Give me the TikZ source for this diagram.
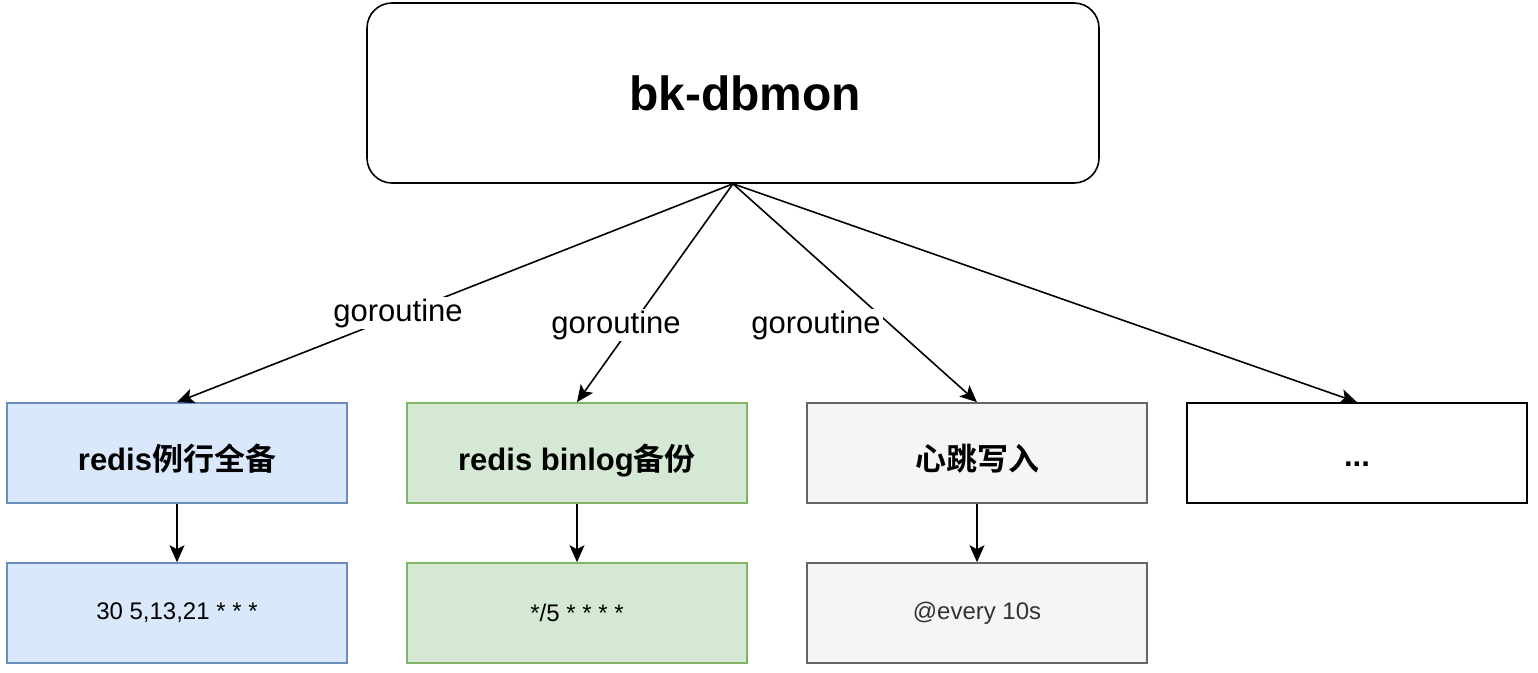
\documentclass[tikz,border=0pt]{standalone}
\usepackage{fontspec}
\setmainfont{Liberation Sans}
\newfontfamily\cjk{Noto Sans CJK SC}[BoldFont={Noto Sans CJK SC Bold}]
\usetikzlibrary{arrows.meta}
\definecolor{bluefill}{HTML}{DAE8FC}
\definecolor{bluedraw}{HTML}{6C8EBF}
\definecolor{greenfill}{HTML}{D5E8D4}
\definecolor{greendraw}{HTML}{82B366}
\definecolor{grayfill}{HTML}{F5F5F5}
\definecolor{graydraw}{HTML}{666666}
\definecolor{graytext}{HTML}{333333}
\newcommand{\lowtext}[2]{\smash{\raisebox{-#1}{#2}}}
\tikzset{
  box/.style={rectangle, minimum width=340pt, minimum height=100pt, line width=1.6pt, inner sep=0pt},
  bigtext/.style={font=\fontsize{31}{36}\selectfont\bfseries},
  smalltext/.style={font=\fontsize{24}{28}\selectfont},
  bluebox/.style={box, fill=bluefill, draw=bluedraw},
  greenbox/.style={box, fill=greenfill, draw=greendraw},
  graybox/.style={box, fill=grayfill, draw=graydraw},
  plainbox/.style={box, fill=white, draw=black},
  arr/.style={line width=1.6pt, -{Stealth[length=17pt, width=15pt, inset=4pt]}},
  lbl/.style={fill=white, inner sep=2pt, font=\fontsize{31}{36}\selectfont}
}
\begin{document}
\begin{tikzpicture}[x=1pt, y=-1pt]
\useasboundingbox (0,0) rectangle (1538,672);
\node[draw=black, line width=1.6pt, rounded corners=25pt, minimum width=732pt, minimum height=180pt] (top) at (733,93) {};
\node[font=\fontsize{48}{54}\selectfont\bfseries, inner sep=0pt] (title) at (745,93) {bk-dbmon};

\node[bluebox, bigtext] (b1) at (177,453) {\lowtext{17pt}{redis{\cjk 例行全备}}};
\node[greenbox, bigtext] (b2) at (577,453) {\lowtext{17pt}{redis binlog{\cjk 备份}}};
\node[graybox, bigtext] (b3) at (977,453) {\lowtext{17pt}{\cjk 心跳写入}};
\node[plainbox, bigtext] (b4) at (1357,453) {\lowtext{13pt}{...}};

\node[bluebox, smalltext] (c1) at (177,613) {30 5,13,21 * * *};
\node[greenbox, smalltext] (c2) at (577,613) {*/5 * * * *};
\node[graybox, smalltext, text=graytext] (c3) at (977,613) {@every 10s};

\draw[arr] (top.south) -- (b1.north);
\draw[arr] (top.south) -- (b2.north);
\draw[arr] (top.south) -- (b3.north);
\draw[arr] (top.south) -- (b4.north);

\draw[arr] (b1.south) -- (c1.north);
\draw[arr] (b2.south) -- (c2.north);
\draw[arr] (b3.south) -- (c3.north);

\node[lbl] (l1) at (398,313) {goroutine};
\node[lbl] (l2) at (616,325) {goroutine};
\node[lbl] (l3) at (816,325) {goroutine};
\end{tikzpicture}
\end{document}
